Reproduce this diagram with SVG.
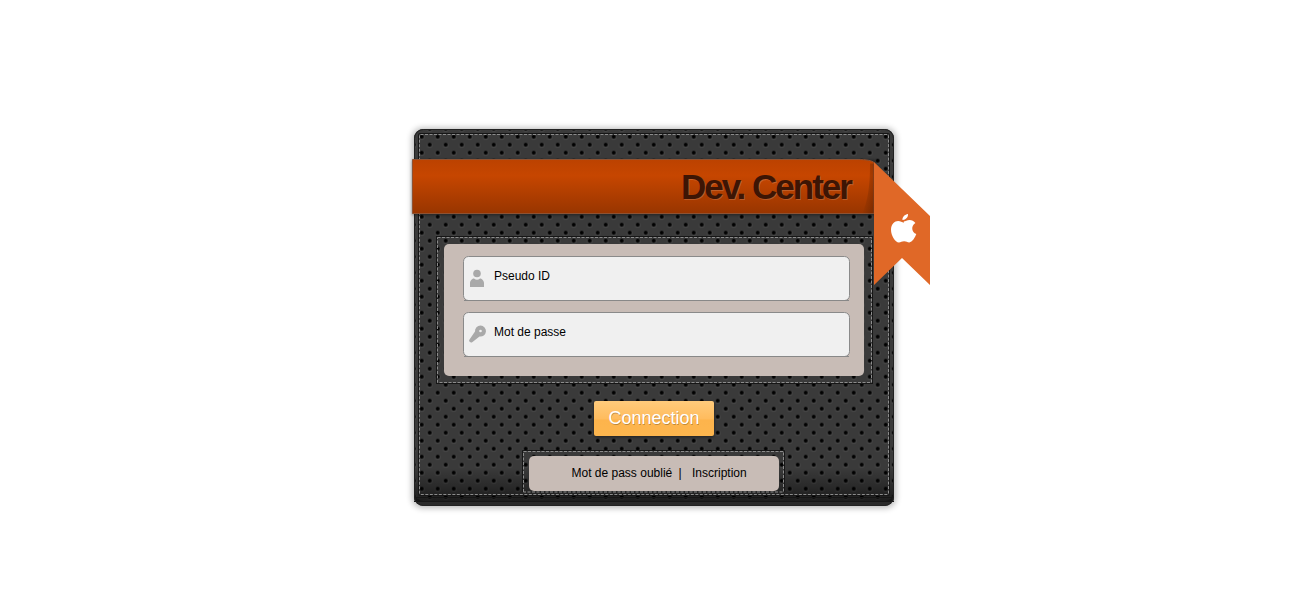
<svg xmlns="http://www.w3.org/2000/svg" width="1307" height="606" viewBox="0 0 1307 606">
<style>
text{font-family:"Liberation Sans",Arial,sans-serif}
.st{fill:none;stroke:#8c8c8c;stroke-width:1;stroke-dasharray:3 1.500}
.bk{fill:none;stroke:#161616;stroke-width:1}
.lb{font-size:12px;fill:#000}
.field{fill:#f0f0f0;stroke:#8a8a8a;stroke-width:1}
.ic{fill:#a9a9a9}
</style>
<defs>
<pattern id="dots" x="413.7" y="128.7" width="16" height="16" patternUnits="userSpaceOnUse">
<rect width="16" height="16" fill="#3a3a3a"/>
<circle cx="8" cy="8.500" r="2.800" fill="#555" opacity=".5"/><circle cx="0" cy=".5" r="2.800" fill="#555" opacity=".5"/><circle cx="16" cy=".5" r="2.800" fill="#555" opacity=".5"/><circle cx="0" cy="16.500" r="2.800" fill="#555" opacity=".5"/><circle cx="16" cy="16.500" r="2.800" fill="#555" opacity=".5"/>
<circle cx="8" cy="8" r="2" fill="#000"/><circle cx="0" cy="0" r="2" fill="#000"/><circle cx="16" cy="0" r="2" fill="#000"/><circle cx="0" cy="16" r="2" fill="#000"/><circle cx="16" cy="16" r="2" fill="#000"/>
</pattern>
<linearGradient id="band" x1="0" y1="0" x2="0" y2="1"><stop offset="0" stop-color="#bc4200"/><stop offset=".3" stop-color="#c64600"/><stop offset="1" stop-color="#983500"/></linearGradient>
<linearGradient id="btn" x1="0" y1="0" x2="0" y2="1"><stop offset="0" stop-color="#ffcb7c"/><stop offset=".5" stop-color="#ffbc5e"/><stop offset=".55" stop-color="#fdb44c"/><stop offset="1" stop-color="#fdb64e"/></linearGradient>
<linearGradient id="fade" x1="0" y1="0" x2="0" y2="1"><stop offset="0" stop-color="#000" stop-opacity="0"/><stop offset="1" stop-color="#000" stop-opacity=".5"/></linearGradient>
<linearGradient id="fold" x1="0" y1="0" x2="1" y2="0"><stop offset="0" stop-color="#000" stop-opacity="0"/><stop offset="1" stop-color="#000" stop-opacity=".22"/></linearGradient>
<filter id="sh" x="-5%" y="-5%" width="110%" height="110%"><feGaussianBlur stdDeviation="3"/></filter>
<filter id="s1" x="-10%" y="-20%" width="120%" height="140%"><feGaussianBlur stdDeviation="1.500"/></filter>
</defs>
<rect width="1307" height="606" fill="#fff"/>
<g id="panel">
<rect x="412" y="128" width="484" height="380" rx="10" fill="#000" opacity=".28" filter="url(#sh)"/>
<rect x="414" y="129" width="480" height="377" rx="9" fill="#2a2a2a"/>
<rect x="414.500" y="129" width="479" height="372" rx="9" fill="url(#dots)"/>
<rect x="414" y="468" width="480" height="33" fill="url(#fade)"/>
<path d="M414 497.500H894M414 501.500H894" stroke="#161616" stroke-width="1"/>
<rect x="414.500" y="129.500" width="479" height="376" rx="9" fill="none" stroke="#222"/>
<rect x="418.500" y="133.500" width="471" height="362" rx="1" class="bk"/>
<rect x="419.500" y="134.500" width="469" height="360" rx="1" class="st"/>
</g>
<g id="form-box">
<rect x="436.500" y="236.500" width="436" height="147" class="bk"/>
<rect x="437.500" y="237.500" width="434" height="145" class="st"/>
<rect x="444" y="244" width="420" height="132" rx="5" fill="#c8bcb6"/>
</g>
<g id="pseudo-field">
<rect x="463.500" y="256.500" width="386" height="44" rx="5" class="field"/>
<path d="M464 300.500H849" stroke="#888"/>
<circle cx="477" cy="273.500" r="3.800" class="ic"/>
<path class="ic" d="M470 287v-4c0-2.700 2.500-4.500 4-4.500 1 .8 2 1.200 3 1.200s2-.4 3-1.200c1.500 0 4 1.800 4 4.500v4z"/>
<text x="494" y="280" class="lb">Pseudo ID</text>
</g>
<g id="password-field">
<rect x="463.500" y="312.500" width="386" height="44" rx="5" class="field"/>
<path d="M464 356.500H849" stroke="#888"/>
<path class="ic" d="M475 331.500a5.500 5.500 0 1 1 4.500 5L472.500 342c-1.200.8-2 .6-2.800-.2-.8-.8-.8-1.600 0-2.600z"/>
<circle cx="480.500" cy="331" r="1.300" fill="#f0f0f0"/>
<text x="494" y="336" class="lb">Mot de passe</text>
</g>
<g id="connection-button">
<rect x="594" y="402" width="120" height="35" rx="2" fill="#000" opacity=".45" filter="url(#s1)"/>
<rect x="594" y="401" width="120" height="35" rx="2" fill="url(#btn)"/>
<text x="654.500" y="424" font-size="18" fill="#000" opacity=".25" text-anchor="middle" transform="translate(0 1)">Connection</text>
<text x="654" y="424" font-size="18" fill="#fff" text-anchor="middle">Connection</text>
</g>
<g id="links-box">
<path d="M522.500 492V450.500H784.500V492" class="bk"/>
<path d="M523.500 492V451.500H783.500V492H523.500" class="st"/>
<rect x="529" y="456" width="250" height="35" rx="5" fill="#c8bcb6"/>
<text x="571.500" y="477" font-size="12" fill="#000">Mot de pass oublié</text>
<text x="678.500" y="477" font-size="12" fill="#000">|</text>
<text x="692" y="477" font-size="12" fill="#000">Inscription</text>
</g>
<g id="banner">
<rect x="412" y="160" width="464" height="55" fill="#000" opacity=".4" filter="url(#s1)"/>
<path d="M412.500 159.500H858c8 0 14 1 16 3V213.500H412.500z" fill="url(#band)" stroke="#8f5232"/>
<path d="M862 213.500c6-12 8-28 8-50h4V213.500z" fill="url(#fold)"/>
<text x="681" y="199" font-size="35" font-weight="700" letter-spacing="-2" fill="#fff" opacity=".16" transform="translate(1 1)">Dev. Center</text>
<text x="681" y="199" font-size="35" font-weight="700" letter-spacing="-2" fill="#3d1504">Dev. Center</text>
</g>
<g id="ribbon">
<path d="M874 162L930 216V285L902 258L874 285z" fill="#e06827"/>
<path fill="#fff" transform="translate(1 0)" d="M907 214c.4 2.900-2.400 6.200-5.500 6-.4-2.900 2.400-5.700 5.500-6zM902.800 221.500c1.600 0 3.200-1.500 5.900-1.500 2 0 4.300 1 5.700 3.100-4.700 2.800-3.900 9.200.9 11-1.200 3.300-4.100 8.300-7 8.300-2.100 0-2.800-1.200-5.200-1.200s-3.200 1.200-5.200 1.200c-3.700 0-7.900-6.800-7.900-12.700 0-5.500 3.700-8.600 7.100-8.600 2.300 0 4.100 1.600 5.700 1.600z"/>
</g>
</svg>
